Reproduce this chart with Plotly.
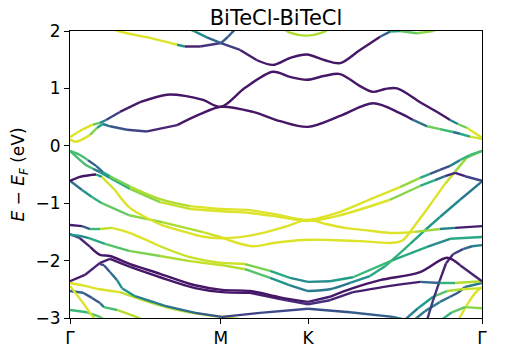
import plotly.graph_objects as go
from plotly.colors import sample_colorscale

# high-symmetry points along the path (hexagonal BZ: GM = 1/sqrt3, MK = 1/3, KG = 2/3)
k_ticks = [0.0, 0.577, 0.911, 1.577]
k_labels = ['Γ', 'M', 'K', 'Γ']
e_ticks = [-3, -2, -1, 0, 1, 2]

# each band: k, energy (eV), projection weight (0..1, viridis)
cb1_k = [0.0, 0.023, 0.077, 0.103, 0.126, 0.153, 0.218, 0.295, 0.410, 0.498, 0.578, 0.701,
         0.804, 0.911, 1.034, 1.160, 1.263, 1.313, 1.367, 1.416, 1.466, 1.493, 1.531, 1.577]
cb1_e = [0.11, 0.07, 0.19, 0.31, 0.38, 0.34, 0.28, 0.25, 0.36, 0.55, 0.68, 0.59,
         0.43, 0.33, 0.52, 0.74, 0.57, 0.45, 0.34, 0.29, 0.24, 0.21, 0.16, 0.12]
cb1_c = [0.95, 0.95, 0.9, 0.7, 0.45, 0.3, 0.25, 0.15, 0.06, 0.06, 0.06, 0.06,
         0.06, 0.06, 0.06, 0.06, 0.06, 0.15, 0.6, 0.95, 0.4, 0.3, 0.9, 0.95]

cb2_k = [0.0, 0.046, 0.088, 0.115, 0.138, 0.191, 0.268, 0.371, 0.440, 0.509, 0.578, 0.670, 0.777, 0.842,
         0.907, 0.976, 1.034, 1.110, 1.160, 1.206, 1.252, 1.340, 1.397, 1.455, 1.485, 1.520, 1.577]
cb2_e = [0.15, 0.28, 0.37, 0.40, 0.45, 0.59, 0.76, 0.89, 0.87, 0.80, 0.68, 1.01, 1.29, 1.20,
         1.15, 1.22, 1.25, 1.04, 0.94, 0.99, 1.00, 0.76, 0.61, 0.45, 0.38, 0.31, 0.14]
cb2_c = [0.95, 0.95, 0.9, 0.6, 0.3, 0.1, 0.06, 0.06, 0.06, 0.06, 0.06, 0.06, 0.06, 0.06,
         0.06, 0.06, 0.06, 0.06, 0.06, 0.06, 0.06, 0.06, 0.06, 0.3, 0.6, 0.95, 0.95]

cb3_k = [0.153, 0.191, 0.306, 0.410, 0.440, 0.498, 0.578, 0.651, 0.716, 0.777, 0.842,
         0.907, 0.976, 1.034, 1.110, 1.187, 1.225, 1.263, 1.328, 1.390, 1.416]
cb3_e = [2.05, 1.99, 1.88, 1.76, 1.73, 1.73, 1.79, 1.67, 1.49, 1.41, 1.53,
         1.59, 1.49, 1.44, 1.67, 1.90, 1.99, 2.00, 1.96, 2.00, 2.05]
cb3_c = [0.95, 0.95, 0.95, 0.9, 0.1, 0.06, 0.25, 0.1, 0.06, 0.06, 0.06,
         0.06, 0.06, 0.06, 0.06, 0.1, 0.5, 0.7, 0.8, 0.85, 0.85]

cb4_k = [0.459, 0.479, 0.524, 0.578, 0.605, 0.632]
cb4_e = [2.03, 1.99, 1.89, 1.79, 1.90, 2.03]
cb4_c = [0.6, 0.55, 0.4, 0.25, 0.3, 0.3]

cb5_k = [0.815, 0.842, 0.907, 0.965, 0.995]
cb5_e = [2.05, 1.97, 1.92, 1.97, 2.05]
cb5_c = [0.88, 0.88, 0.88, 0.88, 0.88]

vb1_k = [0.0, 0.038, 0.069, 0.100, 0.126, 0.153, 0.230, 0.345, 0.459, 0.578, 0.689, 0.804,
         0.911, 1.034, 1.160, 1.263, 1.340, 1.378, 1.416, 1.455, 1.493, 1.531, 1.577]
vb1_e = [-0.09, -0.16, -0.25, -0.35, -0.46, -0.53, -0.71, -0.93, -1.05, -1.10, -1.12, -1.21,
         -1.29, -1.15, -0.91, -0.72, -0.56, -0.49, -0.42, -0.35, -0.25, -0.16, -0.09]
vb1_c = [0.7, 0.7, 0.35, 0.25, 0.45, 0.7, 0.88, 0.88, 0.95, 0.95, 0.95, 0.95,
         0.95, 0.95, 0.95, 0.88, 0.8, 0.4, 0.15, 0.3, 0.6, 0.7, 0.7]

vb2_k = [0.0, 0.057, 0.088, 0.115, 0.153, 0.230, 0.345, 0.459, 0.578, 0.689,
         0.804, 0.911, 1.034, 1.225, 1.340, 1.397, 1.436, 1.474, 1.512, 1.577]
vb2_e = [-0.09, -0.32, -0.40, -0.46, -0.56, -0.75, -0.98, -1.10, -1.14, -1.17,
         -1.24, -1.31, -1.21, -0.94, -0.70, -0.60, -0.53, -0.47, -0.53, -0.61]
vb2_c = [0.7, 0.7, 0.3, 0.5, 0.55, 0.75, 0.88, 0.95, 0.95, 0.95,
         0.95, 0.95, 0.95, 0.88, 0.75, 0.5, 0.2, 0.06, 0.12, 0.3]

vb3_k = [0.0, 0.038, 0.077, 0.100, 0.122, 0.172, 0.226, 0.287, 0.352, 0.440, 0.505, 0.578,
         0.651, 0.735, 0.823, 0.911, 0.976, 1.053, 1.148, 1.236, 1.321, 1.416, 1.474, 1.577]
vb3_e = [-0.61, -0.54, -0.51, -0.50, -0.54, -0.77, -1.07, -1.24, -1.38, -1.50, -1.58, -1.61,
         -1.59, -1.52, -1.41, -1.29, -1.36, -1.43, -1.48, -1.52, -1.50, -1.45, -1.43, -1.40]
vb3_c = [0.06, 0.06, 0.06, 0.15, 0.92, 0.95, 0.95, 0.95, 0.95, 0.95, 0.95, 0.95,
         0.95, 0.95, 0.95, 0.95, 0.95, 0.95, 0.95, 0.95, 0.9, 0.8, 0.1, 0.06]

vb4_k = [0.0, 0.046, 0.084, 0.122, 0.226, 0.352, 0.505, 0.578, 0.632, 0.701, 0.785,
         0.892, 0.995, 1.110, 1.236, 1.275, 1.321, 1.378, 1.436, 1.474, 1.520, 1.577]
vb4_e = [-0.61, -0.77, -0.89, -1.00, -1.21, -1.33, -1.50, -1.59, -1.68, -1.75, -1.69,
         -1.64, -1.64, -1.66, -1.69, -1.64, -1.38, -1.03, -0.66, -0.45, -0.20, -0.09]
vb4_c = [0.3, 0.45, 0.6, 0.7, 0.8, 0.85, 0.9, 0.95, 0.95, 0.95, 0.95,
         0.95, 0.95, 0.95, 0.95, 0.95, 0.95, 0.95, 0.92, 0.9, 0.8, 0.72]

vb5_k = [0.0, 0.046, 0.077, 0.115, 0.161, 0.230, 0.345, 0.459, 0.578, 0.670,
         0.766, 0.842, 0.911, 0.995, 1.083, 1.236, 1.367, 1.455, 1.577]
vb5_e = [-1.38, -1.40, -1.45, -1.45, -1.43, -1.52, -1.75, -1.94, -2.04, -2.06,
         -2.18, -2.30, -2.37, -2.36, -2.29, -1.99, -1.76, -1.62, -1.59]
vb5_c = [0.06, 0.1, 0.5, 0.85, 0.95, 0.95, 0.92, 0.92, 0.95, 0.9,
         0.7, 0.5, 0.45, 0.5, 0.6, 0.75, 0.45, 0.5, 0.7]

vb6_k = [0.0, 0.038, 0.073, 0.134, 0.226, 0.345, 0.459, 0.582, 0.670, 0.766, 0.842,
         0.911, 0.995, 1.072, 1.148, 1.206, 1.263, 1.302, 1.359, 1.416, 1.493, 1.577]
vb6_e = [-1.55, -1.57, -1.61, -1.71, -1.83, -1.92, -2.01, -2.08, -2.15, -2.30, -2.43,
         -2.53, -2.50, -2.39, -2.27, -2.10, -1.87, -1.71, -1.47, -1.24, -0.94, -0.62]
vb6_c = [0.6, 0.45, 0.5, 0.7, 0.75, 0.85, 0.9, 0.92, 0.85, 0.6, 0.45,
         0.4, 0.4, 0.45, 0.55, 0.65, 0.65, 0.6, 0.55, 0.5, 0.45, 0.35]

vb7_k = [0.0, 0.038, 0.077, 0.115, 0.153, 0.230, 0.345, 0.479, 0.582, 0.689,
         0.804, 0.911, 0.995, 1.083, 1.187, 1.340, 1.443, 1.493, 1.577]
vb7_e = [-1.54, -1.61, -1.76, -1.90, -1.92, -2.06, -2.23, -2.43, -2.51, -2.53,
         -2.64, -2.72, -2.63, -2.48, -2.34, -2.20, -1.95, -2.08, -2.36]
vb7_c = [0.25, 0.15, 0.06, 0.06, 0.06, 0.06, 0.06, 0.06, 0.06, 0.06,
         0.06, 0.1, 0.06, 0.06, 0.06, 0.06, 0.06, 0.08, 0.12]

vb8_k = [0.0, 0.057, 0.115, 0.153, 0.230, 0.345, 0.479, 0.582, 0.689,
         0.804, 0.911, 0.995, 1.083, 1.225, 1.340, 1.416, 1.474, 1.577]
vb8_e = [-2.36, -2.25, -2.04, -1.97, -2.11, -2.29, -2.48, -2.55, -2.56,
         -2.67, -2.76, -2.69, -2.55, -2.44, -2.37, -2.39, -2.39, -2.36]
vb8_c = [0.06, 0.08, 0.12, 0.08, 0.06, 0.06, 0.06, 0.06, 0.08,
         0.1, 0.15, 0.12, 0.08, 0.08, 0.2, 0.45, 0.85, 0.92]

vb9_k = [0.115, 0.130, 0.153, 0.180, 0.199, 0.249, 0.364, 0.479, 0.582, 0.727, 0.911, 1.072, 1.236, 1.302]
vb9_e = [-2.06, -2.08, -2.20, -2.34, -2.48, -2.62, -2.79, -2.91, -2.98, -2.91, -2.84, -2.90, -2.98, -3.05]
vb9_c = [0.15, 0.25, 0.3, 0.45, 0.55, 0.45, 0.4, 0.3, 0.25, 0.15, 0.3, 0.2, 0.4, 0.4]

vb10_k = [0.0, 0.057, 0.115, 0.191, 0.279, 0.383, 0.498, 0.612, 0.670]
vb10_e = [-2.39, -2.44, -2.50, -2.55, -2.69, -2.83, -2.93, -3.00, -3.03]
vb10_c = [0.95, 0.95, 0.95, 0.92, 0.88, 0.88, 0.88, 0.88, 0.88]

vb11_k = [0.0, 0.050, 0.088, 0.100]
vb11_e = [-2.44, -2.74, -2.98, -3.05]
vb11_c = [0.95, 0.95, 0.95, 0.95]

vb12_k = [0.0, 0.065, 0.115, 0.130]
vb12_e = [-2.86, -2.90, -2.98, -3.03]
vb12_c = [0.65, 0.7, 0.75, 0.75]

vb13_k = [0.0, 0.050, 0.084, 0.115, 0.130, 0.180, 0.249, 0.276]
vb13_e = [-2.53, -2.56, -2.65, -2.74, -2.81, -2.86, -2.97, -3.03]
vb13_c = [0.35, 0.3, 0.25, 0.3, 0.5, 0.9, 0.88, 0.88]

vb14_k = [1.367, 1.390, 1.416, 1.439, 1.466, 1.504, 1.539, 1.577]
vb14_e = [-3.03, -2.69, -2.34, -2.05, -1.89, -1.80, -1.75, -1.73]
vb14_c = [0.2, 0.15, 0.1, 0.08, 0.15, 0.25, 0.4, 0.5]

vb15_k = [1.282, 1.332, 1.390, 1.443, 1.500, 1.577]
vb15_e = [-3.03, -2.83, -2.63, -2.53, -2.50, -2.48]
vb15_c = [0.4, 0.5, 0.6, 0.85, 0.9, 0.95]

vb16_k = [1.416, 1.462, 1.512, 1.577]
vb16_e = [-3.05, -2.90, -2.81, -2.83]
vb16_c = [0.6, 0.7, 0.8, 0.85]

vb17_k = [1.485, 1.524, 1.554, 1.577]
vb17_e = [-3.05, -2.74, -2.55, -2.46]
vb17_c = [0.95, 0.95, 0.95, 0.95]

vb18_k = [1.313, 1.359, 1.416, 1.455, 1.485, 1.512, 1.577]
vb18_e = [-3.05, -2.88, -2.72, -2.63, -2.56, -2.46, -2.39]
vb18_c = [0.35, 0.4, 0.45, 0.3, 0.25, 0.3, 0.5]

bands = [
    (cb1_k, cb1_e, cb1_c), (cb2_k, cb2_e, cb2_c), (cb3_k, cb3_e, cb3_c),
    (cb4_k, cb4_e, cb4_c), (cb5_k, cb5_e, cb5_c),
    (vb18_k, vb18_e, vb18_c), (vb17_k, vb17_e, vb17_c), (vb16_k, vb16_e, vb16_c),
    (vb15_k, vb15_e, vb15_c), (vb14_k, vb14_e, vb14_c), (vb13_k, vb13_e, vb13_c),
    (vb12_k, vb12_e, vb12_c), (vb11_k, vb11_e, vb11_c), (vb10_k, vb10_e, vb10_c),
    (vb9_k, vb9_e, vb9_c), (vb8_k, vb8_e, vb8_c), (vb7_k, vb7_e, vb7_c),
    (vb6_k, vb6_e, vb6_c), (vb5_k, vb5_e, vb5_c), (vb4_k, vb4_e, vb4_c),
    (vb3_k, vb3_e, vb3_c), (vb2_k, vb2_e, vb2_c), (vb1_k, vb1_e, vb1_c),
]


def viridis(c):
    return sample_colorscale('Viridis', [c])[0]


fig = go.Figure()

for ks, es, cs in bands:
    # split every band into runs of one colour, each drawn as a smooth line
    start = 0
    for i in range(1, len(ks)):
        if cs[i] != cs[start] or i == len(ks) - 1:
            c = cs[start] if i - start > 1 else (cs[start] + cs[i]) / 2
            fig.add_trace(go.Scatter(
                x=ks[start:i + 1], y=es[start:i + 1],
                mode='lines',
                line=dict(color=viridis(c), width=2.4, shape='spline', smoothing=0.9),
                hoverinfo='skip', showlegend=False
            ))
            start = i

axis_style = dict(
    showline=True, linecolor='black', linewidth=1, mirror=True,
    ticks='outside', ticklen=5, tickwidth=1, tickcolor='black',
    showgrid=False, zeroline=False, automargin=False,
    tickfont=dict(size=17, color='black'),
)

# the page body adds an 8px offset, so the figure is 8px smaller than the window
fig.update_layout(
    width=497, height=342,
    margin=dict(l=62, r=23, t=23, b=32, autoexpand=False),
    paper_bgcolor='white', plot_bgcolor='white',
    font=dict(family='DejaVu Sans', color='black'),
    title=dict(text='BiTeCl-BiTeCl', x=0.5, xref='paper', xanchor='center',
               y=1 - 10 / 342, yref='container', yanchor='middle',
               font=dict(size=21, color='black')),
    xaxis=dict(range=[0, 1.577], tickvals=k_ticks, ticktext=k_labels, **axis_style),
    yaxis=dict(range=[-3, 2], tickvals=e_ticks,
               title=dict(text='<i>E</i> − <i>E</i><sub><i>F</i></sub> (eV)',
                          font=dict(size=17, color='black'), standoff=20),
               **axis_style),
)

fig.write_html("out.html")
